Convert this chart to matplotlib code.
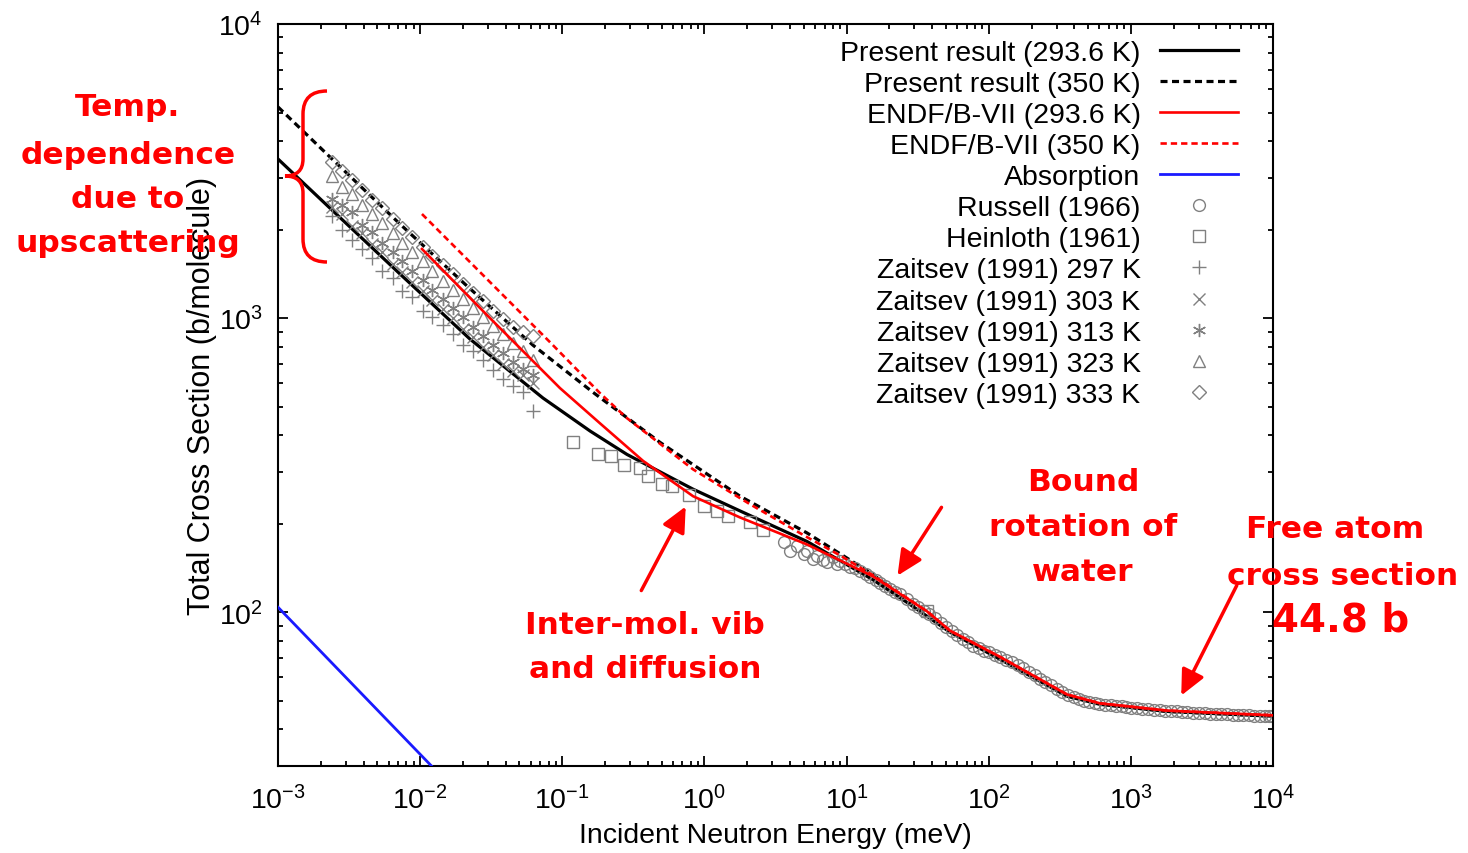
import numpy as np
import matplotlib
matplotlib.use('Agg')
import matplotlib.pyplot as plt
from matplotlib.path import Path
from matplotlib.patches import PathPatch, FancyArrowPatch
from matplotlib.ticker import LogLocator, NullFormatter

plt.rcParams['font.family'] = ['Liberation Sans', 'DejaVu Sans']
plt.rcParams['mathtext.fontset'] = 'custom'
plt.rcParams['mathtext.rm'] = 'Liberation Sans'
plt.rcParams['mathtext.it'] = 'Liberation Sans:italic'
plt.rcParams['mathtext.bf'] = 'Liberation Sans:bold'

# ---------------- data (energy in meV, cross section in b/molecule) ----------------
present293_E = [0.001, 0.00232, 0.00721, 0.0224, 0.0731, 0.157, 0.285, 0.832, 1.78,
                5.27, 15.3, 26.6, 36.8, 53.5, 120, 356, 607, 1795, 10000]
present293_sig = [3475, 2366, 1413, 849, 535, 413, 344, 262, 221,
                  174, 129, 108, 96.9, 85.5, 69.2, 51.8, 48.6, 46.0, 44.3]

present350_E = [0.001, 0.00232, 0.00721, 0.0214, 0.0622, 0.164, 0.487, 1.78,
                5.27, 15.3, 26.6, 36.8, 53.5, 120, 356, 607, 1795, 10000]
present350_sig = [5224, 3530, 2089, 1285, 809, 560, 378, 248,
                  186, 134.5, 109, 97.5, 86.0, 69.5, 52.0, 48.7, 46.0, 44.3]

endf293_E = [0.0103, 0.0310, 0.0964, 0.184, 0.370, 0.832, 1.78, 5.27,
             15.3, 36.8, 53.5, 120, 356, 607, 1795, 10000]
endf293_sig = [1718, 1000, 578, 439, 327, 248, 210, 170,
               132.5, 100.7, 86.5, 70.5, 52.5, 49.0, 46.3, 44.6]

endf350_E = [0.0103, 0.0277, 0.082, 0.184, 0.285, 0.832, 2.09, 5.27, 9.0,
             15.3, 36.8, 53.5, 120, 356, 607, 1795, 10000]
endf350_sig = [2259, 1400, 828, 556, 457, 306, 233, 180, 156,
               133.6, 100.7, 86.5, 70.5, 52.5, 49.0, 46.3, 44.6]

absorption_E = [0.001, 0.1]
absorption_sig = [104, 10.4]

russell_E = [3.6, 4.0, 4.5, 5.0, 5.3, 5.8, 6.2, 6.8, 7.3, 8.0, 8.5, 9.0, 9.8, 10.6, 11.5,
             12.5, 13.6, 14.7, 16.0, 17.2, 18.7, 20.3, 22.0, 23.8, 26.5, 29.4, 32, 35, 38,
             42, 46, 50, 55, 60, 66, 72, 78, 85, 92, 100, 110, 120, 132, 145, 160, 175, 192,
             210, 230, 250, 275, 300, 330, 360, 395, 430, 470, 510, 555, 600, 660, 720, 790,
             860, 930, 1000, 1100, 1200, 1320, 1450, 1600, 1750, 1920, 2100, 2300, 2500,
             2750, 3000, 3300, 3600, 3950, 4300, 4750, 5200, 5700, 6200, 6800, 7400,
             8100, 8800, 9400, 9900]
russell_sig = [173, 161, 168, 158, 161, 152, 155, 150, 148, 154, 146, 149, 146, 143, 141,
               138, 135, 132, 129, 126, 123, 120, 117, 115, 111, 107, 104, 101, 98.5,
               95.5, 92, 89, 86, 83.5, 81, 79, 77, 75.5, 74, 73, 71.5, 70.5, 69, 67.5, 66,
               64.5, 62.5, 61, 59.5, 58, 56.5, 55, 53.7, 52.5, 51.5, 50.7, 50, 49.5, 49.1,
               48.8, 48.5, 48.3, 48.0, 47.8, 47.6, 47.4, 47.2, 47.0, 46.8, 46.6, 46.5,
               46.3, 46.1, 46.0, 45.9, 45.8, 45.6, 45.5, 45.4, 45.2, 45.1, 45.0, 44.9,
               44.8, 44.75, 44.7, 44.6, 44.5, 44.45, 44.4, 44.35, 44.3]

heinloth_E = [0.119, 0.179, 0.220, 0.272, 0.353, 0.402, 0.504, 0.593, 0.780, 0.995,
              1.23, 1.47, 2.10, 2.59, 36.9]
heinloth_sig = [378, 345, 339, 316, 309, 290, 272, 268, 250, 230,
                221, 212, 202, 190, 100.7]

zaitsev_E = [0.0024, 0.0028, 0.0033, 0.0039, 0.0046, 0.0054, 0.0064, 0.0075, 0.0088,
             0.0104, 0.0122, 0.0144, 0.0169, 0.0199, 0.0234, 0.0276, 0.0325, 0.0383,
             0.0450, 0.053, 0.0625]
zaitsev297_sig = [2220, 1990, 1850, 1720, 1600, 1450, 1370, 1240, 1180, 1060, 1010, 950,
                  880, 810, 770, 720, 665, 620, 590, 560, 483]
zaitsev303_sig = [2380, 2260, 2060, 1950, 1790, 1680, 1530, 1440, 1330, 1240, 1150, 1070,
                  1000, 920, 860, 800, 750, 700, 660, 640, 600]
zaitsev313_sig = [2550, 2420, 2290, 2080, 1960, 1800, 1680, 1560, 1450, 1350, 1250, 1160,
                  1080, 1010, 930, 870, 810, 760, 710, 670, 640]
zaitsev323_sig = [3040, 2800, 2640, 2430, 2260, 2100, 1940, 1800, 1680, 1560, 1450, 1340,
                  1250, 1160, 1080, 1010, 940, 880, 820, 770, 720]
zaitsev333_sig = [3400, 3170, 2950, 2730, 2530, 2360, 2180, 2030, 1890, 1750, 1630, 1510,
                  1410, 1310, 1220, 1140, 1060, 990, 930, 900, 870]

# ---------------- figure ----------------
W, H = 1468, 854
fig = plt.figure(figsize=(W / 100, H / 100), dpi=100)
ax = fig.add_axes([278 / W, 1 - 767 / H, (1273 - 278) / W, (767 - 25) / H])

gray = '#808080'
mk = dict(linestyle='none', mfc='none', mec=gray, mew=1.0, zorder=2.5)

ax.plot(present293_E, present293_sig, color='black', lw=2.3, zorder=2,
        label='Present result (293.6 K)')
ax.plot(present350_E, present350_sig, color='black', lw=2.3, ls=(0, (2.2, 1.4)), zorder=2,
        label='Present result (350 K)')
ax.plot(endf293_E, endf293_sig, color='#ff0000', lw=1.9, zorder=3,
        label='ENDF/B-VII (293.6 K)')
ax.plot(endf350_E, endf350_sig, color='#ff0000', lw=1.9, ls=(0, (2.4, 1.5)), zorder=3,
        label='ENDF/B-VII (350 K)')
ax.plot(absorption_E, absorption_sig, color='#1a1aff', lw=2.0, zorder=3, label='Absorption')
ax.plot(russell_E, russell_sig, marker='o', ms=8.5, label='Russell (1966)', **mk)
ax.plot(heinloth_E, heinloth_sig, marker='s', ms=8.5, label='Heinloth (1961)', **mk)
ax.plot(zaitsev_E, zaitsev297_sig, marker='+', ms=9.5, label='Zaitsev (1991) 297 K', **mk)
ax.plot(zaitsev_E, zaitsev303_sig, marker='x', ms=8.5, label='Zaitsev (1991) 303 K', **mk)
ax.plot(zaitsev_E, zaitsev313_sig, marker=(6, 2, 0), ms=9.5, label='Zaitsev (1991) 313 K', **mk)
ax.plot(zaitsev_E, zaitsev323_sig, marker='^', ms=8.5, label='Zaitsev (1991) 323 K', **mk)
ax.plot(zaitsev_E, zaitsev333_sig, marker='D', ms=7, label='Zaitsev (1991) 333 K', **mk)

ax.set_xscale('log')
ax.set_yscale('log')
ax.set_xlim(1e-3, 1e4)
ax.set_ylim(30, 1e4)

ax.xaxis.set_major_locator(LogLocator(base=10, numticks=20))
ax.xaxis.set_minor_locator(LogLocator(base=10, subs=np.arange(2, 10), numticks=100))
ax.xaxis.set_minor_formatter(NullFormatter())
ax.yaxis.set_major_locator(LogLocator(base=10, numticks=20))
ax.yaxis.set_minor_locator(LogLocator(base=10, subs=np.arange(2, 10), numticks=100))
ax.yaxis.set_minor_formatter(NullFormatter())

ax.tick_params(which='both', direction='in', top=True, right=True, width=1.3)
ax.tick_params(which='major', length=7, labelsize=20.5)
ax.tick_params(which='minor', length=3.5)
ax.tick_params(axis='x', which='major', pad=14)
ax.tick_params(axis='y', which='major', pad=11)
for s in ax.spines.values():
    s.set_linewidth(1.5)

ax.set_xlabel('Incident Neutron Energy (meV)', fontsize=20.5, labelpad=5)
ax.set_ylabel('Total Cross Section (b/molecule)', fontsize=22, labelpad=1)

leg = ax.legend(loc='upper right', bbox_to_anchor=(0.965, 0.979), frameon=False,
                markerfirst=False, handlelength=2.75, handletextpad=0.68,
                labelspacing=0.18, fontsize=20.5, numpoints=1, borderpad=0,
                borderaxespad=0)

# ---------------- annotations (red, figure pixel coordinates) ----------------
def fp(x, y):
    return (x / W, 1 - y / H)

afont = dict(family=['DejaVu Sans'], fontweight='bold', color='#ff0000', ha='center',
             va='center', fontsize=22.5)
for txt, x, y in [('Temp.', 128, 108), ('dependence', 128, 155), ('due to', 128, 200),
                  ('upscattering', 128, 244),
                  ('Inter-mol. vib', 645, 625), ('and diffusion', 645, 670),
                  ('Bound', 1083, 483), ('rotation of', 1083, 528), ('water', 1083, 573),
                  ('Free atom', 1335, 530), ('cross section', 1343, 577)]:
    fig.text(*fp(x, y), txt, **afont)
fig.text(*fp(1341, 620), '44.8 b', **{**afont, 'fontsize': 28})

for (x0, y0), (x1, y1) in [((640, 594), (687, 505)), ((943, 506), (896, 579)),
                           ((1238, 584), (1180, 699))]:
    arr = FancyArrowPatch(fp(x0, y0), fp(x1, y1), transform=fig.transFigure,
                          arrowstyle='-|>,head_length=0.55,head_width=0.26',
                          mutation_scale=28, lw=2.5, color='#ff0000')
    fig.add_artist(arr)

# curly brace
bx = [(327, 92), (303, 92), (303, 115), (303, 160), (303, 177), (285, 177),
      (303, 177), (303, 194), (303, 240), (303, 263), (327, 263)]
codes = [Path.MOVETO, Path.CURVE3, Path.CURVE3, Path.LINETO, Path.CURVE3, Path.CURVE3,
         Path.CURVE3, Path.CURVE3, Path.LINETO, Path.CURVE3, Path.CURVE3]
brace = PathPatch(Path([fp(*p) for p in bx], codes), transform=fig.transFigure,
                  fill=False, ec='#ff0000', lw=2.5)
fig.add_artist(brace)

fig.savefig('out.png', dpi=100)
